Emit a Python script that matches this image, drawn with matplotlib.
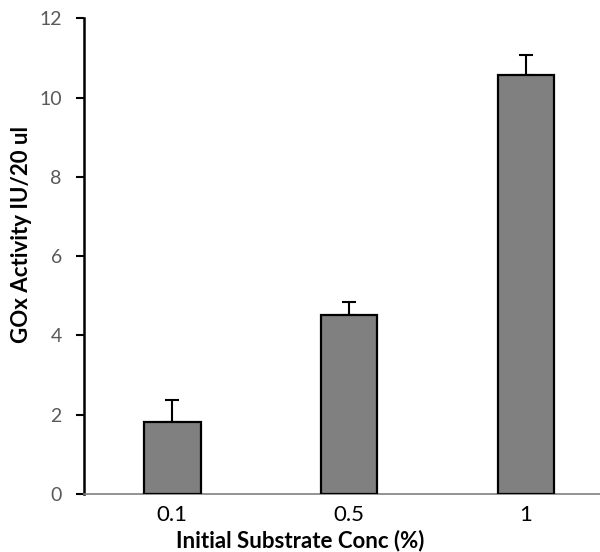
import matplotlib
matplotlib.use("Agg")
import matplotlib.pyplot as plt
import numpy as np

# ── data ──────────────────────────────────────────────
categories = ["0.1", "0.5", "1"]
activity   = [1.82, 4.52, 10.58]
err_up     = [0.55, 0.32, 0.50]

plt.rcParams["font.family"] = ["Lato", "DejaVu Sans"]

fig = plt.figure(figsize=(6.0, 5.52), dpi=100)
ax = fig.add_axes([0.14, 0.105, 0.86, 0.862])

xs = np.arange(len(categories))
ax.bar(xs, activity, width=0.32, color="#808080", edgecolor="black",
       linewidth=1.6, zorder=3)
ax.errorbar(xs, activity, yerr=[np.zeros(len(err_up)), err_up], fmt="none",
            ecolor="black", elinewidth=1.5, capsize=5, capthick=1.5, zorder=2)

ax.set_ylim(0, 12)
ax.set_xlim(-0.5, 2.42)
ax.set_yticks(range(0, 13, 2))
ax.set_xticks(xs)
ax.set_xticklabels(categories)

ax.spines["top"].set_visible(False)
ax.spines["right"].set_visible(False)
ax.spines["left"].set_linewidth(1.8)
ax.spines["bottom"].set_color("#808080")
ax.spines["bottom"].set_linewidth(1.2)

ax.tick_params(axis="y", direction="out", length=6, width=1.5,
               labelsize=14, labelcolor="#595959", pad=10)
ax.tick_params(axis="x", length=0, labelsize=16, labelcolor="black", pad=8)

ax.set_ylabel("GOx Activity IU/20 ul", fontsize=16, fontweight="bold")
ax.set_xlabel("Initial Substrate Conc (%)", fontsize=16, fontweight="bold")
ax.yaxis.set_label_coords(-0.10, 0.545)
ax.xaxis.set_label_coords(0.419, -0.075)

fig.savefig("out.png", dpi=100)
